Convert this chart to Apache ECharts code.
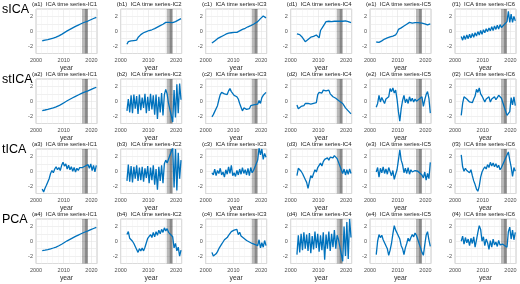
<!DOCTYPE html>
<html>
<head>
<meta charset="utf-8">
<script src="https://cdn.jsdelivr.net/npm/echarts@6.0.0/dist/echarts.min.js"></script>
<style>html,body{margin:0;padding:0;background:#fff;}#main{width:520px;height:284px;}</style>
</head>
<body>
<div id="main"></div>
<script>
// ---- data ----
const years = [2002.25, 2002.75, 2003.25, 2003.75, 2004.25, 2004.75, 2005.25, 2005.75, 2006.25, 2006.75,
  2007.25, 2007.75, 2008.25, 2008.75, 2009.25, 2009.75, 2010.25, 2010.75, 2011.25, 2011.75,
  2012.25, 2012.75, 2013.25, 2013.75, 2014.25, 2014.75, 2015.25, 2015.75, 2016.25, 2016.75, 2017.25,
  2018.75, 2019.25, 2019.75, 2020.25, 2020.75, 2021.25, 2021.75];
const rowLabels = ['sICA', 'stICA', 'tICA', 'PCA'];
const panelLetters = ['a', 'b', 'c', 'd', 'e', 'f'];
const xTickLabels = [2000, 2010, 2020];
const yTickLabels = [-2, 0, 2];
const gapLight = [2016.6, 2017.6];
const gapDark = [2017.6, 2018.7];

// sICA
const sica1 = [-1.28,-1.25,-1.2,-1.17,-1.13,-1.08,-1.03,-0.98,-0.93,-0.86,-0.8,-0.72,-0.63,-0.53,-0.42,-0.3,-0.18,-0.07,0.05,0.15,0.25,0.35,0.45,0.55,0.65,0.74,0.83,0.92,1.01,1.1,1.18, 1.38,1.47,1.55,1.63,1.72,1.8,1.88];
const sica2 = [-1.75,-1.4,-1.15,-1.3,-1.15,-1.25,-1.1,-1.2,-0.85,-0.7,-0.45,-0.35,-0.2,-0.3,-0.05,-0.15,0.1,0.0,0.2,0.3,0.35,0.45,0.55,0.5,0.75,0.8,0.95,1.05,1.2,1.4,1.2, 1.15,1.2,1.3,1.4,1.5,1.6,1.7];
const sica3 = [-1.6,-1.4,-1.3,-1.15,-1.0,-0.9,-0.8,-0.7,-0.6,-0.5,-0.4,-0.3,-0.25,-0.2,-0.2,-0.2,-0.15,-0.2,-0.15,-0.05,0.05,0.15,0.25,0.3,0.4,0.5,0.6,0.65,0.75,0.85,0.95, 1.3,1.45,1.7,1.9,2.05,1.95,1.8];
const sica4 = [-0.35,-0.3,-0.45,-0.6,-0.85,-1.1,-1.4,-1.25,-1.1,-0.95,-0.8,-1.0,-0.7,-0.85,-0.5,-0.35,-0.9,0.1,0.3,0.7,1.0,1.3,1.4,1.35,1.4,1.3,1.4,1.35,1.4,1.35,1.35, 1.35,1.3,1.4,1.3,1.3,1.25,1.15];
const sica5 = [-1.45,-1.6,-1.5,-1.4,-1.3,-1.15,-1.05,-0.95,-0.9,-0.85,-0.75,-0.7,-0.65,-0.6,-0.5,-0.2,0.25,0.4,0.45,0.6,0.7,0.85,0.95,1.05,1.2,1.35,1.1,1.2,1.15,1.2,1.15, 1.1,1.05,1.0,0.95,0.85,0.9,1.0];
const sica6 = [-0.7,-1.2,-0.6,-1.1,-0.5,-1.0,-0.4,-0.9,-0.3,-0.8,-0.2,-0.65,-0.05,-0.5,0.1,-0.4,0.2,-0.2,0.35,-0.05,0.45,0.05,0.6,0.1,0.7,0.25,0.8,0.3,0.9,0.5,0.7, 1.3,2.7,1.2,2.3,1.2,2.0,1.4];
// stICA
const stica1 = [-1.25,-1.22,-1.18,-1.14,-1.1,-1.05,-1.0,-0.95,-0.9,-0.84,-0.77,-0.69,-0.6,-0.5,-0.39,-0.28,-0.16,-0.05,0.07,0.17,0.27,0.37,0.47,0.57,0.66,0.75,0.84,0.93,1.02,1.11,1.19, 1.4,1.49,1.57,1.65,1.73,1.81,1.89];
const stica2 = [-1.3,0.3,-1.5,0.8,-1.6,0.9,-1.0,0.7,-1.7,0.9,-1.2,0.5,-0.9,1.0,-1.6,0.6,-1.3,1.0,-1.1,0.8,-1.8,0.9,-2.4,0.6,-1.5,1.1,-1.9,0.9,1.6,1.0,-0.3, -2.8,1.5,-2.2,2.3,-1.6,2.4,0.2];
const stica3 = [-2.1,-1.8,-1.4,-1.2,-0.6,0.2,0.9,1.2,1.3,1.0,1.2,0.9,1.4,1.7,1.3,1.5,0.8,1.0,0.6,0.3,-0.3,-0.8,-1.3,-0.9,-0.7,-1.1,-0.9,-1.0,-0.6,-0.7,-0.5, -0.4,0.1,-0.3,0.5,0.8,1.0,1.2];
const stica4 = [-0.5,-1.0,-0.8,-0.7,-0.5,-0.6,-0.3,-0.4,-0.3,-0.2,-0.4,-0.2,-0.3,-0.1,-0.2,0.9,1.2,1.4,1.1,1.5,1.3,1.4,1.2,1.5,1.0,0.9,0.6,0.7,0.4,0.3,0.1, -0.3,-0.6,-0.9,-1.1,-1.3,-1.5,-1.7];
const stica5 = [-0.8,-0.3,0.8,-0.1,0.5,0.1,-0.3,0.3,0.1,0.6,1.7,1.3,1.8,1.1,1.5,0.3,-1.4,-2.7,-1.0,0.1,0.8,-0.2,0.3,-0.3,0.6,0.0,0.4,-0.1,0.3,0.0,0.2, 0.6,-0.7,0.2,0.9,1.3,0.4,-1.6];
const stica6 = [-1.9,-0.3,0.6,0.8,0.3,0.5,-0.1,0.1,-0.2,0.3,0.7,1.6,1.2,1.8,1.0,0.7,0.5,-0.1,0.3,0.1,0.6,-0.1,0.3,0.1,0.6,0.2,0.5,0.8,0.7,0.4,0.5, -1.9,-2.1,-1.4,0.5,-0.5,0.6,-0.6];
// tICA
const tica1 = [-2.4,-2.8,-2.3,-1.9,-2.1,-1.0,-0.3,0.1,-0.2,0.3,0.6,0.2,0.5,0.1,0.8,1.2,0.7,1.0,0.3,0.8,0.2,0.6,0.0,0.5,-0.1,0.4,0.1,0.5,0.3,0.5,0.4, 0.9,0.4,1.0,0.1,0.8,-0.1,0.8];
const tica2 = [-1.3,0.9,-1.4,0.7,-1.5,0.6,-1.0,0.8,-1.3,0.5,-1.2,0.6,-1.4,0.4,-0.9,0.7,-1.6,0.5,-1.2,0.8,-1.8,0.3,-2.5,0.6,-1.3,0.8,-1.6,1.0,1.5,1.1,0.9, 3.2,-2.2,3.0,-2.6,2.5,-1.0,1.5];
const tica3 = [-0.2,-0.5,0.3,-0.6,0.1,-0.3,0.4,-0.5,-0.1,-0.8,0.2,-0.4,0.6,-0.3,0.8,-0.6,-0.2,-0.7,0.1,-0.5,0.3,-0.4,0.5,-0.3,0.2,-0.5,0.4,-0.6,0.5,-0.2,0.1, 1.5,3.2,2.2,3.0,1.6,2.4,1.9];
const tica4 = [-0.6,0.4,0.3,0.0,-0.3,-0.7,-1.1,-1.5,-2.3,-1.4,-0.6,-0.9,-0.3,0.2,-0.1,0.5,0.8,1.1,0.7,1.3,1.6,1.4,1.8,1.5,1.9,2.1,1.8,2.1,1.9,1.7,1.5, -0.3,0.3,-0.5,0.2,-0.4,0.3,-0.3];
const tica5 = [-0.1,0.5,-0.8,0.4,-0.2,0.6,-0.3,0.3,-0.4,0.5,0.7,-0.6,0.1,-1.1,-0.4,0.2,1.5,2.9,1.5,0.9,-0.2,0.4,-0.3,0.5,-0.4,0.2,-0.1,-0.3,0.1,-0.1,0.0, -0.5,-0.9,-0.1,-1.2,-0.3,-1.0,1.2];
const tica6 = [2.2,0.6,0.0,0.4,0.1,0.3,-0.2,0.2,-0.6,-1.3,-1.8,-2.4,-2.7,-2.0,-0.8,-0.1,0.3,0.6,0.3,0.9,0.5,1.2,0.7,1.1,0.6,1.0,0.5,0.8,0.2,0.5,0.3, 2.2,2.6,1.5,0.6,-0.7,0.5,0.0];
// PCA
const pca1 = [-1.27,-1.24,-1.2,-1.16,-1.12,-1.07,-1.02,-0.97,-0.91,-0.85,-0.78,-0.7,-0.61,-0.51,-0.4,-0.29,-0.17,-0.06,0.06,0.16,0.26,0.36,0.46,0.56,0.65,0.74,0.83,0.92,1.01,1.1,1.18, 1.39,1.48,1.56,1.64,1.72,1.8,1.87];
const pca2 = [0.9,1.3,0.4,0.6,0.0,-0.3,-0.7,-1.1,-1.5,-1.0,-1.3,-0.9,-1.3,-0.8,-0.2,0.4,0.2,0.9,0.5,1.2,0.6,1.3,0.8,1.5,1.0,1.6,1.2,1.8,1.4,1.7,1.2, 0.6,-0.9,-0.3,-1.3,-0.8,-2.0,-1.2];
const pca3 = [-1.5,-2.0,-2.2,-1.7,-1.4,-1.0,-0.8,-0.4,-0.1,0.2,0.4,0.5,0.8,1.0,1.3,1.2,1.5,1.3,1.6,0.9,1.2,0.7,0.9,0.4,0.6,0.1,0.3,-0.1,0.1,-0.3,-0.2, -0.6,0.2,-0.9,-0.2,-0.8,0.1,-0.6];
const pca4 = [-1.8,0.8,-1.5,1.0,-1.2,1.2,-1.0,0.9,-1.3,1.1,-1.6,0.7,-1.1,1.3,-0.9,1.0,-1.4,0.8,-1.2,1.2,-2.5,0.9,-1.0,1.3,-1.3,1.0,-0.8,1.5,-1.0,0.8,0.2, -2.7,2.0,-2.0,2.6,-2.4,3.0,0.5];
const pca5 = [-1.8,0.0,0.9,0.5,0.8,0.2,-0.2,-0.6,-1.0,-1.9,-1.2,-0.3,1.0,2.1,1.5,1.1,1.3,0.3,-0.6,-1.0,-1.8,-0.9,-0.3,0.4,0.0,0.5,0.9,0.6,1.1,0.8,1.0, -1.5,-1.9,-0.5,0.8,1.3,0.2,-0.7];
const pca6 = [0.0,0.7,-0.4,0.5,-0.2,0.3,-0.6,0.4,-0.3,0.6,-0.8,0.2,1.2,2.1,1.6,0.0,0.6,-0.6,0.3,-0.2,-1.1,0.1,-0.8,0.3,-0.5,-0.1,-0.7,0.1,-0.5,-0.3,-0.4, -0.8,1.3,1.9,0.3,1.5,0.2,1.2];

const rows = [
  [sica1, sica2, sica3, sica4, sica5, sica6],
  [stica1, stica2, stica3, stica4, stica5, stica6],
  [tica1, tica2, tica3, tica4, tica5, tica6],
  [pca1, pca2, pca3, pca4, pca5, pca6]
];

// ---- layout ----
const colLeft = [36, 120.7, 205.7, 290.7, 370, 455];
const rowTop = [9, 79, 149, 219];
const W = 61, H = 44.5;
const FONT = "'Liberation Sans', Arial, Helvetica, sans-serif";

const option = {animation: false, backgroundColor: '#fff', grid: [], xAxis: [], yAxis: [], series: [], graphic: []};

rows.forEach((rowData, r) => {
  option.graphic.push({type: 'text', left: 2, top: rowTop[r] - 6,
    style: {text: rowLabels[r], font: '12.5px ' + FONT, fill: '#000'}});
  rowData.forEach((vals, c) => {
    const idx = r * 6 + c;
    option.grid.push({left: colLeft[c], top: rowTop[r], width: W, height: H, show: true,
      borderColor: '#bdbdbd', borderWidth: 0.8, containLabel: false});
    option.xAxis.push({gridIndex: idx, type: 'value', min: 2000, max: 2022, interval: 10,
      axisLine: {show: false}, axisTick: {show: false},
      axisLabel: {fontSize: 5.5, color: '#4d4d4d', margin: 4, fontFamily: FONT, showMaxLabel: false,
        formatter: v => xTickLabels.indexOf(v) >= 0 ? String(v) : ''},
      splitLine: {show: true, lineStyle: {color: '#e3e3e3', width: 0.6}},
      minorTick: {show: false, splitNumber: 5},
      minorSplitLine: {show: true, lineStyle: {color: '#f0f0f0', width: 0.5}},
      name: 'year', nameLocation: 'middle', nameGap: 10,
      nameTextStyle: {fontSize: 6.8, color: '#333', fontFamily: FONT}});
    option.yAxis.push({gridIndex: idx, type: 'value', min: -3, max: 3, interval: 1,
      axisLine: {show: false}, axisTick: {show: false},
      axisLabel: {fontSize: 5.5, color: '#4d4d4d', margin: 3, fontFamily: FONT,
        formatter: v => yTickLabels.indexOf(v) >= 0 ? String(v) : ''},
      splitLine: {show: true, lineStyle: {color: '#e6e6e6', width: 0.6}}});
    option.series.push({type: 'line', xAxisIndex: idx, yAxisIndex: idx,
      data: years.map((t, i) => [t, vals[i]]), symbol: 'none', showSymbol: false,
      lineStyle: {color: '#0072BD', width: 1.3}, clip: true, z: 2, silent: true});
    option.series.push({type: 'line', xAxisIndex: idx, yAxisIndex: idx,
      data: [[2000, 0]], symbol: 'none', showSymbol: false, lineStyle: {opacity: 0}, z: 5, silent: true,
      markArea: {silent: true, data: [
        [{xAxis: gapLight[0], itemStyle: {color: 'rgba(0,0,0,0.27)'}}, {xAxis: gapLight[1]}],
        [{xAxis: gapDark[0], itemStyle: {color: 'rgba(0,0,0,0.45)'}}, {xAxis: gapDark[1]}]
      ]}});
    option.graphic.push({type: 'text', x: colLeft[c] + W / 2 - 2, y: rowTop[r] - 4.5,
      style: {text: '(' + panelLetters[c] + (r + 1) + ')  ICA time series-IC' + (c + 1),
        font: '5.9px ' + FONT, fill: '#1a1a1a', align: 'center', verticalAlign: 'middle',
        textAlign: 'center', textVerticalAlign: 'middle'}});
  });
});

const chart = echarts.init(document.getElementById('main'), null, {renderer: 'canvas'});
chart.setOption(option);
</script>
</body>
</html>
